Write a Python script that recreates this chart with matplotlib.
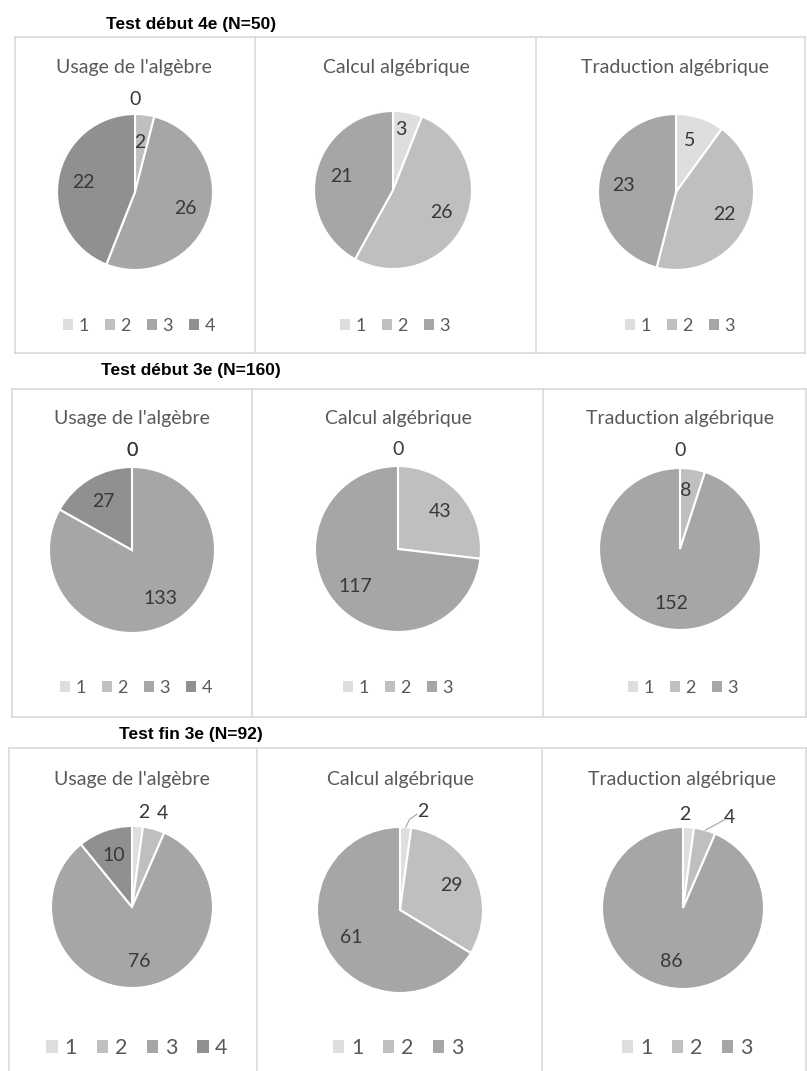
import numpy as np
import matplotlib
matplotlib.use("Agg")
import matplotlib.pyplot as plt
from matplotlib.patches import Patch
from matplotlib.lines import Line2D

# ---- data ----
sections = ["Test début 4e (N=50)", "Test début 3e (N=160)", "Test fin 3e (N=92)"]
panel_titles = ["Usage de l'algèbre", "Calcul algébrique", "Traduction algébrique"]

usage_4e = [0, 2, 26, 22]
calcul_4e = [3, 26, 21]
trad_4e = [5, 22, 23]

usage_d3e = [0, 0, 133, 27]
calcul_d3e = [0, 43, 117]
trad_d3e = [0, 8, 152]

usage_f3e = [2, 4, 76, 10]
calcul_f3e = [2, 29, 61]
trad_f3e = [2, 4, 86]

rows = [[usage_4e, calcul_4e, trad_4e],
        [usage_d3e, calcul_d3e, trad_d3e],
        [usage_f3e, calcul_f3e, trad_f3e]]

greys = ["#dedede", "#bfbfbf", "#a6a6a6", "#909090"]

W, H = 807, 1071
fig = plt.figure(figsize=(W / 100, H / 100), dpi=100)
fig.patch.set_facecolor("white")


def fx(x):
    return x / W


def fy(y):
    return 1 - y / H


# layout in pixels (measured on the reference)
sec_title_y = [25, 370, 735]
box_x = [[15, 255, 536, 805], [12, 252, 543, 806], [9, 257, 542, 806]]
box_y = [(37, 353), (389, 717), (748, 1080)]
centers = [[(135, 192, 78), (393, 190, 79), (676, 192, 78)],
           [(132, 550, 83), (398, 549, 83), (680, 549, 81)],
           [(132, 907, 81), (400, 910, 83), (683, 908, 81)]]
title_y = [67, 419, 779]
title_x = [[134, 396, 675], [132, 398, 680], [132, 400, 682]]
legend_y = [326, 688, 1048]
legend_x = [[139, 395, 680], [136, 398, 683], [137, 398, 687]]
legend_fs = [13, 13, 15.5]

# label placement: (row, col, idx) -> (dist, angle) in pie radius units, default inside
label_pos = {
    (0, 0, 0): (1.18, 90), (0, 0, 1): (0.64, 85),
    (0, 1, 0): (0.77, 83),
    (0, 2, 0): (0.69, 75),
    (1, 0, 0): (1.2, 90), (1, 0, 1): (1.2, 90),
    (1, 1, 0): (1.2, 90),
    (1, 2, 0): (1.22, 90), (1, 2, 1): (0.73, 84),
    (2, 0, 0): (1.17, 83), (2, 0, 1): (1.22, 72),
    (2, 1, 0): (1.22, 77),
    (2, 2, 0): (1.15, 89), (2, 2, 1): (1.25, 63),
}
leaders = {
    (2, 1, 0): [(1.0, 86), (1.1, 84), (1.17, 80)],
    (2, 2, 1): [(1.0, 74), (1.12, 68), (1.2, 65)],
}

for r in range(3):
    fig.text(fx(191), fy(sec_title_y[r]), sections[r], ha="center", va="center",
             fontsize=12.5, fontweight="bold", family="Liberation Sans", color="black")
    xs = box_x[r]
    y0, y1 = box_y[r]
    for x in xs:
        fig.add_artist(Line2D([fx(x), fx(x)], [fy(y0), fy(y1)], color="#d9d9d9", lw=1.2))
    fig.add_artist(Line2D([fx(xs[0]), fx(xs[-1])], [fy(y0), fy(y0)], color="#d9d9d9", lw=1.2))
    if y1 < H:
        fig.add_artist(Line2D([fx(xs[0]), fx(xs[-1])], [fy(y1), fy(y1)], color="#d9d9d9", lw=1.2))

    for c in range(3):
        vals = rows[r][c]
        cx, cy, rad = centers[r][c]
        k = 1.4
        side = 2 * rad * k
        ax = fig.add_axes([fx(cx - side / 2), fy(cy + side / 2), side / W, side / H])
        wedges, _ = ax.pie(vals, colors=greys[:len(vals)], startangle=90, counterclock=False,
                           wedgeprops=dict(edgecolor="white", linewidth=1.5))
        ax.set_xlim(-k, k)
        ax.set_ylim(-k, k)
        ax.set_aspect("equal")
        ax.axis("off")

        for i, w in enumerate(wedges):
            mid = (w.theta1 + w.theta2) / 2
            d, ang = label_pos.get((r, c, i), (0.68, mid))
            a = np.radians(ang)
            ax.text(d * np.cos(a), d * np.sin(a), str(vals[i]), ha="center", va="center",
                    fontsize=14, color="#383838", family="Lato")
        for key, pts in leaders.items():
            if key[:2] == (r, c):
                lx = [p[0] * np.cos(np.radians(p[1])) for p in pts]
                ly = [p[0] * np.sin(np.radians(p[1])) for p in pts]
                ax.plot(lx, ly, color="#a6a6a6", lw=0.8)

        fig.text(fx(title_x[r][c]), fy(title_y[r]), panel_titles[c], ha="center", va="center",
                 fontsize=14, color="#595959", family="Lato")

        n = len(vals)
        handles = [Patch(facecolor=greys[i], edgecolor="none") for i in range(n)]
        ax.legend(handles, [str(i + 1) for i in range(n)], loc="center",
                  bbox_to_anchor=(fx(legend_x[r][c]), fy(legend_y[r])),
                  bbox_transform=fig.transFigure, ncol=n, frameon=False,
                  handlelength=0.55, handleheight=0.55, handletextpad=0.3,
                  columnspacing=0.9, prop=dict(family="Lato", size=legend_fs[r]),
                  labelcolor="#595959")

fig.savefig("out.png", dpi=100, facecolor="white")
